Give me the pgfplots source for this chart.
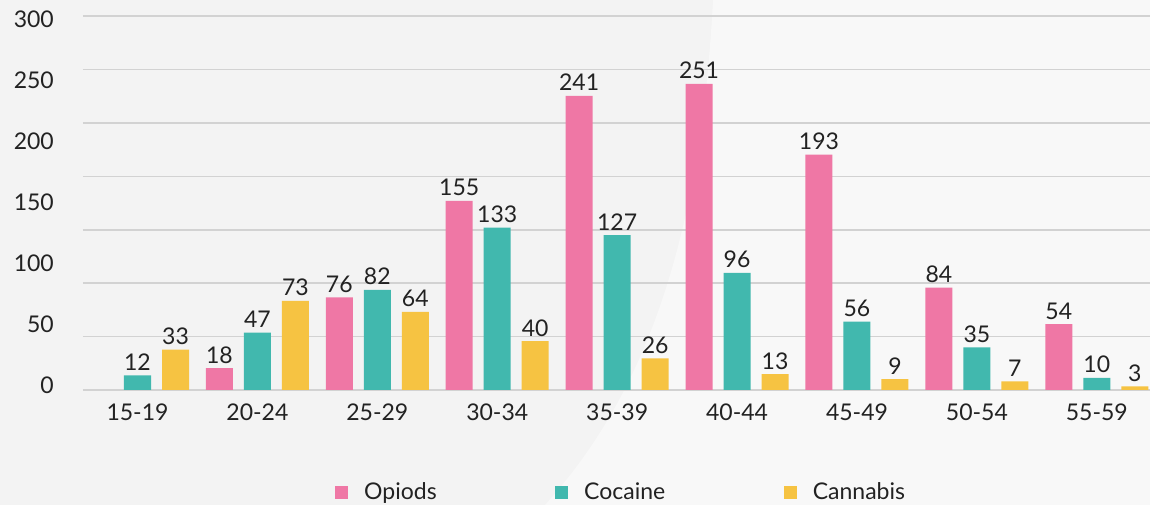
\documentclass[border=0pt]{standalone}
\usepackage{fontspec}
\setmainfont{Lato}
\usepackage{pgfplots}
\pgfplotsset{compat=1.18}
\definecolor{opi}{HTML}{EF77A5}
\definecolor{coc}{HTML}{41B8AE}
\definecolor{can}{HTML}{F6C342}
\definecolor{bgl}{HTML}{F3F3F3}
\definecolor{bgr}{HTML}{F8F8F8}
\definecolor{gridc}{HTML}{D2D2D2}
\definecolor{txt}{HTML}{222222}
\newcommand{\cf}{\fontsize{23bp}{27bp}\selectfont}
\begin{document}
\cf
\begin{tikzpicture}[x=1bp,y=1bp]
\path[use as bounding box] (-83,-115) rectangle (1067,390);
\fill[bgl] (-83,-115) rectangle (1067,390);
\fill[bgr] (630,390) .. controls (617,140) and (557,-10) .. (462,-115) -- (1067,-115) -- (1067,390) -- cycle;
\begin{axis}[
  at={(0,0)}, anchor=south west, scale only axis,
  width=1067bp, height=390bp,
  xmin=-0.4545, xmax=8.444, ymin=0, ymax=319.7,
  ybar=11bp, bar width=27bp,
  /pgf/number format/assume math mode=true,
  axis line style={draw=none}, major tick length=0pt, tick style={draw=none},
  xtick={0,1,2,3,4,5,6,7,8},
  xticklabels={15-19,20-24,25-29,30-34,35-39,40-44,45-49,50-54,55-59},
  ytick={0,50,100,150,200,250,300},
  extra y ticks={0,43.8,87.6,131.3,175.1,218.9,262.7,306.5},
  extra y tick labels={},
  extra y tick style={grid=major, major grid style={gridc, line width=1.5bp}},
  xticklabel style={anchor=base, inner sep=0pt, yshift=-31bp, font=\cf, text=txt},
  yticklabel style={anchor=east, inner sep=0pt, xshift=-29bp, yshift=5bp, font=\cf, text=txt},
  nodes near coords,
  every node near coord/.append style={anchor=base, inner sep=0pt, yshift=5bp, font=\cf, text=txt},
  legend columns=3,
  legend image code/.code={\fill[#1] (0bp,-6.5bp) rectangle (13bp,6.5bp);},
  legend style={at={(0.2362,-0.2631)}, anchor=west, draw=none, fill=none, inner sep=0pt,
    nodes={inner sep=0pt, text depth=0.15em, font=\cf, text=txt},
    /tikz/every odd column/.append style={column sep=16bp},
    /tikz/every even column/.append style={column sep=118.5bp}},
]
\addplot[fill=opi, draw=none] coordinates {(1,18) (2,76) (3,155) (4,241) (5,251) (6,193) (7,84) (8,54)};
\addplot[fill=coc, draw=none] coordinates {(0,12) (1,47) (2,82) (3,133) (4,127) (5,96) (6,56) (7,35) (8,10)};
\addplot[fill=can, draw=none] coordinates {(0,33) (1,73) (2,64) (3,40) (4,26) (5,13) (6,9) (7,7) (8,3)};
\legend{Opiods,Cocaine,Cannabis}
\end{axis}
\end{tikzpicture}
\end{document}
